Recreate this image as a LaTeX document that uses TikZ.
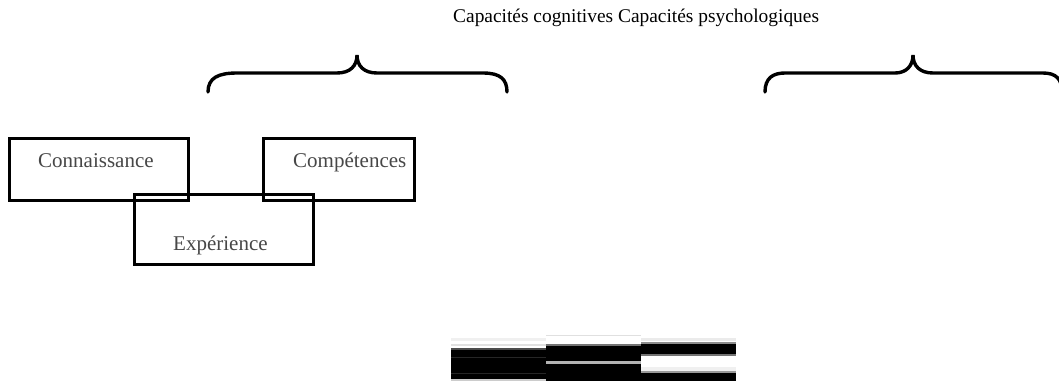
\documentclass[tikz,border=0pt]{standalone}
\usepackage{fontspec}
\setmainfont{Liberation Serif}
\begin{document}
\begin{tikzpicture}[x=1pt,y=-1pt,
  brace/.style={line width=3.4pt,line cap=round},
  box/.style={draw,line width=3pt,inner sep=0pt,anchor=north west},
  boxtext/.style={anchor=base west,inner sep=0pt,text=black!72,font=\fontsize{21}{24}\selectfont},
  toptext/.style={anchor=base west,inner sep=0pt,font=\fontsize{19.4}{23}\selectfont}]
\useasboundingbox (0,0) rectangle (1059,381);
% title
\node[toptext] (title) at (453,22) {Capacités cognitives Capacités psychologiques};
% braces
\draw[brace] (208,92) .. controls (208,78) and (218,73) .. (237,73) -- (337,73)
  .. controls (350,73) and (357,66) .. (357,55)
  .. controls (357,66) and (364,73) .. (377,73) -- (483,73)
  .. controls (500,73) and (507,79) .. (507,92);
\draw[brace] (765,92) .. controls (765,78) and (773,73) .. (785,73) -- (895,73)
  .. controls (906,73) and (913,66) .. (913,55)
  .. controls (913,66) and (920,73) .. (933,73) -- (1043,73)
  .. controls (1056,73) and (1062,79) .. (1062,92);
% boxes
\node[box,minimum width=179pt,minimum height=62pt] (bconn) at (8,137) {};
\node[box,minimum width=151pt,minimum height=62pt] (bcomp) at (262,137) {};
\node[box,minimum width=179pt,minimum height=70pt] (bexp) at (133,193) {};
\node[boxtext] (tconn) at (38,167) {Connaissance};
\node[boxtext] (tcomp) at (293,167) {Compétences};
\node[boxtext] (texp) at (173,250) {Expérience};
% striped bar
\fill[black!6] (451,338) rectangle (546,341);
\fill[black!12] (451,344) rectangle (546,346);
\fill[black!70] (451,348) rectangle (546,350);
\fill[black] (451,350) rectangle (546,379);
\fill[black!85] (451,356.5) rectangle (546,357.5);
\fill[black!85] (451,372.5) rectangle (546,373.5);
\fill[black!20] (451,379) rectangle (546,381);
\fill[black!12] (546,334.5) rectangle (641,336);
\fill[black!55] (546,344) rectangle (641,346);
\fill[black] (546,346) rectangle (641,361);
\fill[black!30] (546,361) rectangle (641,364);
\fill[black] (546,364) rectangle (641,381);
\fill[black!8] (641,338) rectangle (736,341);
\fill[black!45] (641,342) rectangle (736,344);
\fill[black] (641,344) rectangle (736,354);
\fill[black!55] (641,354) rectangle (736,356);
\fill[black!6] (641,367) rectangle (736,371);
\fill[black!40] (641,371) rectangle (736,373);
\fill[black] (641,373) rectangle (736,381);
\end{tikzpicture}
\end{document}
